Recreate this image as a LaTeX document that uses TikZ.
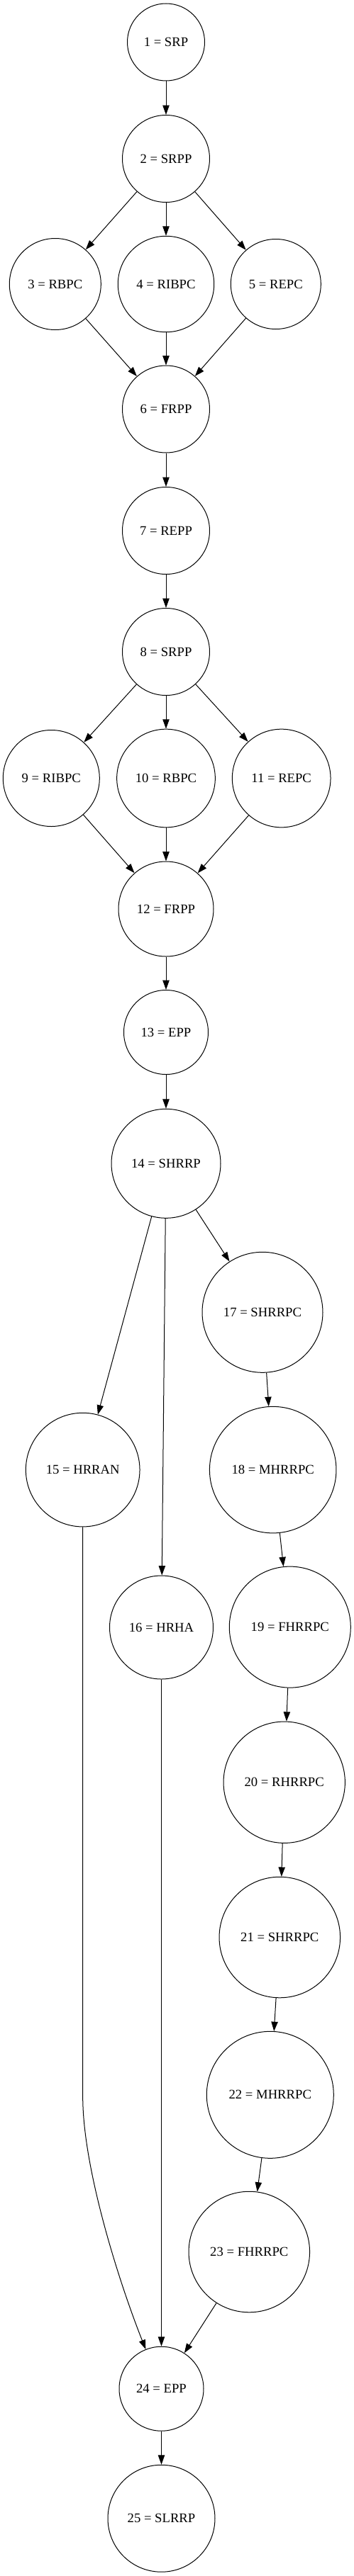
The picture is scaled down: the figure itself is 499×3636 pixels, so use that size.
\documentclass[tikz,border=0pt]{standalone}
\usepackage{fontspec}
\setmainfont{Liberation Serif}
\usetikzlibrary{arrows.meta}

\begin{document}
\begin{tikzpicture}[x=0.75pt, y=-0.75pt,
    state/.style={circle, draw, line width=0.75pt, inner sep=0pt, minimum size=#1, font=\fontsize{14pt}{17pt}\selectfont},
    link/.style={-{Triangle[length=10pt, width=7pt]}, line width=0.75pt}]
    \useasboundingbox (0,0) rectangle (499,3636);

    \node [state=81.75pt] (n1) at (234,59.5) {1 = SRP};
    \node [state=92.25pt] (n2) at (234,224) {2 = SRPP};
    \node [state=96.75pt] (n3) at (77.8,401) {3 = RBPC};
    \node [state=101.6pt] (n4) at (234,401) {4 = RIBPC};
    \node [state=95.25pt] (n5) at (388.8,401) {5 = REPC};
    \node [state=92.25pt] (n6) at (234,577.5) {6 = FRPP};
    \node [state=92.25pt] (n7) at (234,749) {7 = REPP};
    \node [state=92.25pt] (n8) at (234,920) {8 = SRPP};
    \node [state=102pt] (n9) at (72.3,1098.5) {9 = RIBPC};
    \node [state=104pt] (n10) at (234,1098.5) {10 = RBPC};
    \node [state=104pt] (n11) at (396.7,1098.5) {11 = REPC};
    \node [state=100.5pt] (n12) at (234,1283) {12 = FRPP};
    \node [state=89.25pt] (n13) at (234,1457) {13 = EPP};
    \node [state=115.5pt] (n14) at (234,1642.3) {14 = SHRRP};
    \node [state=127.5pt] (n17) at (370,1852.3) {17 = SHRRPC};
    \node [state=120.5pt] (n15) at (116.7,2074.6) {15 = HRRAN};
    \node [state=133.9pt] (n18) at (384.7,2074.6) {18 = MHRRPC};
    \node [state=109.5pt] (n16) at (227.5,2297) {16 = HRHA};
    \node [state=128.25pt] (n19) at (408.8,2296.6) {19 = FHRRPC};
    \node [state=128.5pt] (n20) at (400.7,2515.7) {20 = RHRRPC};
    \node [state=127.9pt] (n21) at (394.3,2734.5) {21 = SHRRPC};
    \node [state=134.25pt] (n22) at (380.8,2956.8) {22 = MHRRPC};
    \node [state=127.9pt] (n23) at (351.3,3178.5) {23 = FHRRPC};
    \node [state=89.25pt] (n24) at (227.5,3371.7) {24 = EPP};
    \node [state=113.25pt] (n25) at (227.5,3554.7) {25 = SLRRP};

    \draw [link] (n1) -- (n2);
    \draw [link] (n2) -- (n3);
    \draw [link] (n2) -- (n4);
    \draw [link] (n2) -- (n5);
    \draw [link] (n3) -- (n6);
    \draw [link] (n4) -- (n6);
    \draw [link] (n5) -- (n6);
    \draw [link] (n6) -- (n7);
    \draw [link] (n7) -- (n8);
    \draw [link] (n8) -- (n9);
    \draw [link] (n8) -- (n10);
    \draw [link] (n8) -- (n11);
    \draw [link] (n9) -- (n12);
    \draw [link] (n10) -- (n12);
    \draw [link] (n11) -- (n12);
    \draw [link] (n12) -- (n13);
    \draw [link] (n13) -- (n14);
    \draw [link] (n14) -- (n15);
    \draw [link] (n14) -- (n16);
    \draw [link] (n14) -- (n17);
    \draw [link] (n17) -- (n18);
    \draw [link] (n18) -- (n19);
    \draw [link] (n19) -- (n20);
    \draw [link] (n20) -- (n21);
    \draw [link] (n21) -- (n22);
    \draw [link] (n22) -- (n23);
    \coordinate (bend15) at (116.7,2960);
    \draw [link] (n15) -- (bend15) .. controls (116.7,3060) and (167.7,3221) .. (n24);
    \draw [link] (n16) -- (n24);
    \draw [link] (n23) -- (n24);
    \draw [link] (n24) -- (n25);
\end{tikzpicture}
\end{document}
